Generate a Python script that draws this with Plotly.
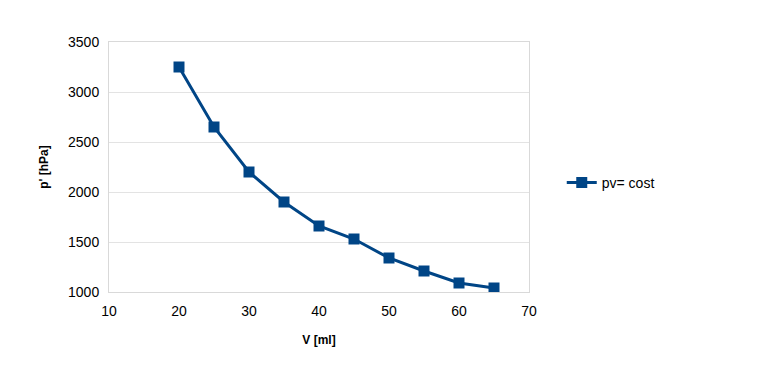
import plotly.graph_objects as go

volume_ml = [20, 25, 30, 35, 40, 45, 50, 55, 60, 65]
pressure_hpa = [3250, 2650, 2200, 1900, 1660, 1530, 1340, 1210, 1090, 1040]
series_name = "pv= cost"
x_title = "V [ml]"
y_title = "p' [hPa]"

color = "#004586"

fig = go.Figure()
fig.add_trace(go.Scatter(
    x=volume_ml, y=pressure_hpa, name=series_name,
    mode="lines+markers",
    line=dict(color=color, width=3),
    marker=dict(symbol="square", size=11, color=color),
))

font = "Liberation Sans, Arial, sans-serif"
# page body has an 8px default margin, so margins are shifted by 8px
fig.update_layout(
    width=773, height=379,
    margin=dict(l=101, r=252, t=34, b=95, pad=0, autoexpand=False),
    paper_bgcolor="white", plot_bgcolor="white",
    font=dict(family=font, size=14, color="#000000"),
    showlegend=True,
    legend=dict(x=1.078, y=0.436, xanchor="left", yanchor="middle",
                font=dict(size=14), bgcolor="rgba(0,0,0,0)"),
    xaxis=dict(
        range=[10, 70], tickvals=[10, 20, 30, 40, 50, 60, 70],
        showgrid=False, zeroline=False, automargin=False,
        showline=True, linecolor="#d9d9d9", linewidth=1, mirror=True,
        ticks="outside", ticklen=6, tickcolor="rgba(0,0,0,0)",
        title=dict(text="<b>" + x_title + "</b>", font=dict(size=12), standoff=17),
    ),
    yaxis=dict(
        range=[1000, 3500], tickvals=[1000, 1500, 2000, 2500, 3000, 3500],
        showgrid=True, gridcolor="#e3e3e3", gridwidth=1, zeroline=False,
        automargin=False,
        showline=True, linecolor="#d9d9d9", linewidth=1, mirror=True,
        ticks="outside", ticklen=6, tickcolor="rgba(0,0,0,0)",
        title=dict(text="<b>" + y_title + "</b>", font=dict(size=12), standoff=16),
    ),
)
fig.write_html("out.html")
